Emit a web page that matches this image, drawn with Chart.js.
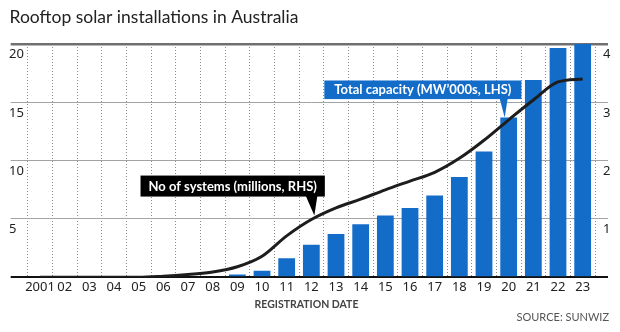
<!DOCTYPE html>
<html>
<head>
<meta charset="utf-8">
<script src="https://cdn.jsdelivr.net/npm/chart.js@4.4.0/dist/chart.umd.min.js"></script>
<style>
  html, body { margin: 0; padding: 0; background: #fff; }
</style>
</head>
<body>
<canvas id="solar" width="620" height="332"></canvas>
<script>
const years = ['2001', '02', '03', '04', '05', '06', '07', '08', '09', '10', '11', '12',
  '13', '14', '15', '16', '17', '18', '19', '20', '21', '22', '23'];
// total capacity, MW'000s (left axis)
const capacity = [0, 0, 0, 0, 0, 0, 0, 0.08, 0.24, 0.56, 1.64, 2.8, 3.71, 4.55, 5.3,
  5.94, 7.02, 8.6, 10.78, 13.7, 16.92, 19.66, 20.8];
// number of systems, millions (right axis)
const systems = [0, 0, 0, 0, 0, 0.02, 0.05, 0.09, 0.18, 0.36, 0.71, 0.99, 1.19, 1.34,
  1.5, 1.65, 1.8, 2.04, 2.35, 2.7, 3.04, 3.35, 3.4];
const leftMax = 20;
const rightMax = 4;

const BLUE = '#136cc8';
const INK = '#1d1d1d';

// grid colour/width per tick: heavy rule on top, black baseline at zero
const gridColor = c => c.tick.value === 0 ? '#111' : (c.tick.value === leftMax || c.tick.value === rightMax) ? '#707070' : '#a3a3a3';
const gridWidth = c => c.tick.value === 0 ? 2 : (c.tick.value === leftMax || c.tick.value === rightMax) ? 2.5 : 1;

const callouts = [
  { text: 'Total capacity (MW\u2019000s, LHS)', dataset: 0, index: 19, fill: BLUE,
    tipDx: -4, tipDy: 0, boxRight: 16.7, gap: 18.4, height: 18.6, padX: 10, baseL: -5, baseR: 3 },
  { text: 'No of systems (millions, RHS)', dataset: 1, index: 11, fill: '#000',
    tipDx: 3, tipDy: -4, boxRight: 10.5, gap: 19, height: 21, padX: 8, baseL: -8.5, baseR: 3 }
];

const decorations = {
  id: 'decorations',
  afterDatasetsDraw(chart) {
    const c = chart.ctx;
    c.save();
    callouts.forEach(o => {
      const el = chart.getDatasetMeta(o.dataset).data[o.index];
      const tx = el.x + o.tipDx, ty = el.y + o.tipDy;
      c.font = 'bold 13px Lato';
      const w = c.measureText(o.text).width + o.padX * 2;
      const right = tx + o.boxRight, bottom = ty - o.gap;
      c.fillStyle = o.fill;
      c.fillRect(right - w, bottom - o.height, w, o.height);
      c.beginPath();
      c.moveTo(tx + o.baseL, bottom - 0.5);
      c.lineTo(tx + o.baseR, bottom - 0.5);
      c.lineTo(tx, ty);
      c.closePath();
      c.fill();
      c.fillStyle = '#fff';
      c.textAlign = 'left';
      c.textBaseline = 'middle';
      c.fillText(o.text, right - w + o.padX, bottom - o.height / 2 + 0.5);
    });
    c.restore();
  },
  afterDraw(chart) {
    const c = chart.ctx;
    c.save();
    c.textBaseline = 'alphabetic';
    c.fillStyle = '#222';
    c.font = '17.5px Lato';
    c.textAlign = 'left';
    c.fillText('Rooftop solar installations in Australia', 9.5, 22.5);
    c.fillStyle = '#444';
    c.font = 'bold 10.5px Lato';
    c.textAlign = 'center';
    c.fillText('REGISTRATION DATE', 306.5, 308);
    c.fillStyle = '#555';
    c.font = '11px Lato';
    c.textAlign = 'right';
    c.fillText('SOURCE: SUNWIZ', 609, 321);
    c.restore();
  }
};

new Chart(document.getElementById('solar'), {
  data: {
    labels: years,
    datasets: [{
      type: 'bar',
      label: 'Total capacity (MW\u2019000s, LHS)',
      data: capacity,
      yAxisID: 'y',
      backgroundColor: BLUE,
      barPercentage: 0.68,
      categoryPercentage: 1,
      order: 2
    }, {
      type: 'line',
      label: 'No of systems (millions, RHS)',
      data: systems,
      yAxisID: 'y1',
      borderColor: INK,
      borderWidth: 3,
      pointRadius: 0,
      cubicInterpolationMode: 'monotone',
      order: 1
    }]
  },
  options: {
    responsive: false,
    animation: false,
    layout: { padding: { top: 44, left: 9, right: 0, bottom: 0 } },
    plugins: {
      legend: { display: false },
      tooltip: { enabled: false }
    },
    scales: {
      x: {
        afterFit: s => { s.height = 54.7; },
        grid: { color: '#8a8a8a', drawTicks: false, offset: true },
        border: { display: false, dash: [1, 2] },
        ticks: { color: '#222', font: { family: 'Noto Sans', size: 13 }, padding: 2, maxRotation: 0, autoSkip: false }
      },
      y: {
        position: 'left',
        min: 0,
        max: leftMax,
        afterFit: s => { s.width = 18.7; },
        grid: { color: gridColor, lineWidth: gridWidth, tickLength: 17 },
        border: { display: false },
        ticks: {
          stepSize: 5,
          crossAlign: 'far',
          labelOffset: 10.5,
          color: '#222',
          font: { family: 'Noto Sans', size: 13 },
          callback: v => v === 0 ? '' : v
        }
      },
      y1: {
        position: 'right',
        min: 0,
        max: rightMax,
        afterFit: s => { s.width = 25; },
        grid: { color: gridColor, lineWidth: gridWidth, tickLength: 13, drawOnChartArea: false },
        border: { display: false },
        ticks: {
          stepSize: 1,
          crossAlign: 'near',
          padding: -5,
          labelOffset: 10.5,
          color: '#222',
          font: { family: 'Noto Sans', size: 13 },
          callback: v => v === 0 ? '' : v
        }
      }
    }
  },
  plugins: [decorations]
});
</script>
</body>
</html>
